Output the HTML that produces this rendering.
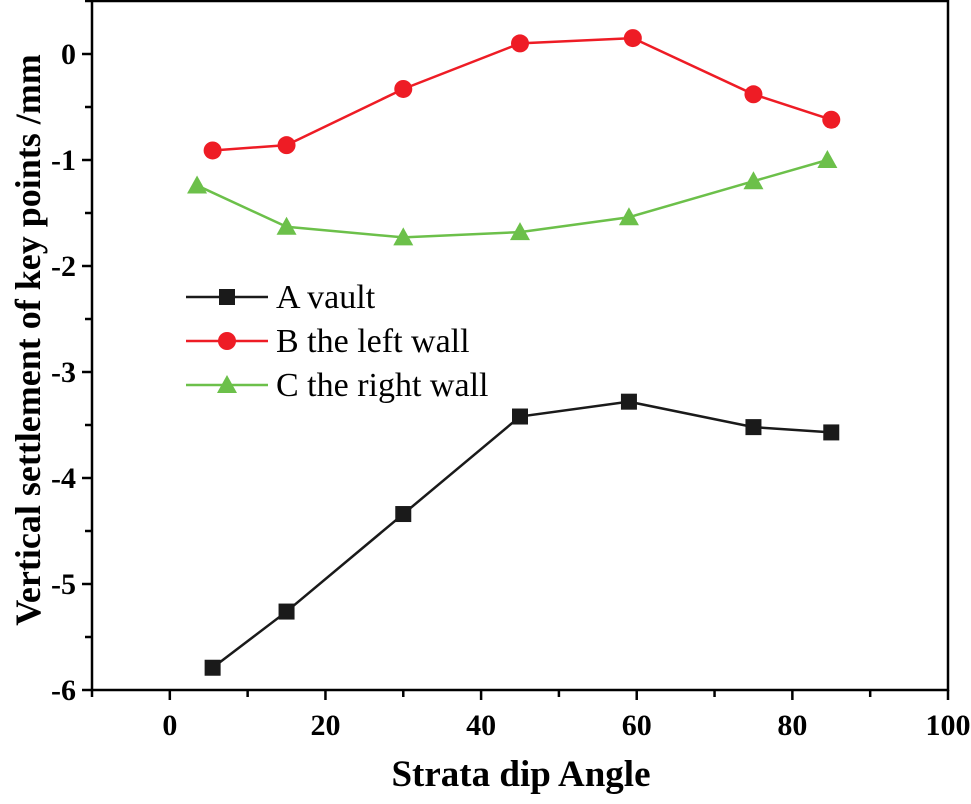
<!DOCTYPE html>
<html><head><meta charset="utf-8"><style>
body{margin:0;background:#fff}
svg{display:block;font-family:"Liberation Serif",serif;font-weight:bold}
</style></head><body>
<svg id="c" width="971" height="804"></svg>
<script>
const xTicks=[0,20,40,60,80,100];
const yTicks=[0,-1,-2,-3,-4,-5,-6];
const seriesNames=["A vault","B the left wall","C the right wall"];
const aX=[5.5,15,30,45,59,75,85];
const aY=[-5.79,-5.26,-4.34,-3.42,-3.28,-3.52,-3.57];
const bX=[5.5,15,30,45,59.5,75,85];
const bY=[-0.91,-0.86,-0.33,0.10,0.15,-0.38,-0.62];
const cX=[3.5,15,30,45,59,75,84.5];
const cY=[-1.24,-1.63,-1.73,-1.68,-1.54,-1.20,-1.00];
const NS="http://www.w3.org/2000/svg",svg=document.getElementById('c');
const L=92,R=948,T=1,B=690;
const xs=v=>L+(v+10)*(R-L)/110, ys=v=>B-(v+6)*(B-T)/6.5;
function mk(t,a,p){const e=document.createElementNS(NS,t);for(const k in a)e.setAttribute(k,a[k]);(p||svg).appendChild(e);return e;}
const f=mk('rect',{x:L,y:T,width:R-L,height:B-T,fill:'none',stroke:'#000','stroke-width':2.5});

for(let v=-10;v<=100;v+=10){const t=mk('line',{x1:xs(v),x2:xs(v),y1:B,y2:B+(v%20===0?10:7),stroke:'#000','stroke-width':2.5});
}
xTicks.forEach(v=>{const t=mk('text',{x:xs(v),y:735,'text-anchor':'middle','font-size':30});t.textContent=v;
});
for(let v=-6;v<=0.5;v+=0.5){const t=mk('line',{x1:L,x2:L-(Number.isInteger(v)?10:7),y1:ys(v),y2:ys(v),stroke:'#000','stroke-width':2.5});
}
yTicks.forEach(v=>{const t=mk('text',{x:76,y:ys(v)+10,'text-anchor':'end','font-size':30});t.textContent=v;
});
let t=mk('text',{x:521,y:786,'text-anchor':'middle','font-size':37});t.textContent='Strata dip Angle';

t=mk('text',{x:0,y:0,'text-anchor':'middle','font-size':36,transform:'translate(40,340) rotate(-90)'});t.textContent='Vertical settlement of key points /mm';

function marker(type,x,y,col,g){
 if(type===0)return mk('rect',{x:x-8,y:y-8,width:16,height:16,fill:col},g);
 if(type===1)return mk('circle',{cx:x,cy:y,r:9,fill:col},g);
 return mk('polygon',{points:`${x},${y-10} ${x+10},${y+8} ${x-10},${y+8}`,fill:col},g);}
const cols=['#1a1a1a','#ee1c25','#6cc04a'];
[[aX,aY],[bX,bY],[cX,cY]].forEach((s,i)=>{
 const g=mk('g',{});
 const ln=mk('polyline',{points:s[0].map((x,j)=>xs(x)+','+ys(s[1][j])).join(' '),fill:'none',stroke:cols[i],'stroke-width':2.5},g);
 
 s[0].forEach((x,j)=>{const m=marker(i,xs(x),ys(s[1][j]),cols[i],g);});
 const lg=mk('g',{},svg);
 const ly=297+i*44;
 mk('line',{x1:186,x2:268,y1:ly,y2:ly,stroke:cols[i],'stroke-width':2.5},lg);
 marker(i,227,ly,cols[i],lg);
 const tx=mk('text',{x:276,y:ly+11,'font-size':34,'font-weight':'normal'},lg);tx.textContent=seriesNames[i];
});
</script>
</body></html>
